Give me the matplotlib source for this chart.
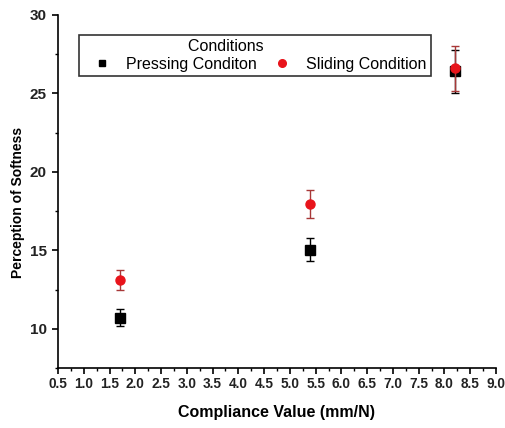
import matplotlib
matplotlib.use("Agg")
import matplotlib.pyplot as plt
from matplotlib.lines import Line2D
from matplotlib.ticker import MultipleLocator

plt.rcParams['font.family'] = ['Liberation Sans', 'DejaVu Sans']

# compliance values (mm/N)
compliance = [1.7, 5.4, 8.2]

# perception of softness, mean and error
pressing = [10.7, 15.05, 26.4]
pressing_err = [0.55, 0.75, 1.35]
sliding = [13.1, 17.95, 26.6]
sliding_err = [0.65, 0.9, 1.45]

fig = plt.figure(figsize=(5.06, 4.28), dpi=100)
ax = fig.add_axes([0.1146, 0.140, 0.8656, 0.825])

ax.errorbar(compliance, pressing, yerr=pressing_err, fmt='s', color='black',
            ecolor='black', markersize=6.5, capsize=3, elinewidth=1, capthick=1,
            zorder=3)
ax.errorbar(compliance, sliding, yerr=sliding_err, fmt='o', color='#e8141b',
            ecolor='#a83838', markersize=6.5, capsize=3, elinewidth=1, capthick=1,
            zorder=4)

ax.set_xlim(0.5, 9.0)
ax.set_ylim(7.5, 30)
ax.xaxis.set_major_locator(MultipleLocator(0.5))
ax.xaxis.set_minor_locator(MultipleLocator(0.25))
ax.set_yticks([10, 15, 20, 25, 30])
ax.yaxis.set_minor_locator(MultipleLocator(2.5))
ax.xaxis.set_major_formatter(plt.FuncFormatter(lambda v, p: '%.1f' % v))

ax.spines['top'].set_visible(False)
ax.spines['right'].set_visible(False)
for s in ['left', 'bottom']:
    ax.spines[s].set_linewidth(1.2)
ax.tick_params(which='major', direction='out', length=4.5, width=1.2)
ax.tick_params(which='minor', direction='out', length=2.5, width=1)
ax.tick_params(axis='x', labelsize=9.8, pad=2)
ax.tick_params(axis='y', labelsize=11)
for lab in ax.get_xticklabels() + ax.get_yticklabels():
    lab.set_fontweight('bold')
    lab.set_color('#222222')

ax.set_xlabel('Compliance Value (mm/N)', fontsize=11.5, fontweight='bold',
              labelpad=10)
ax.set_ylabel('Perception of Softness', fontsize=10, fontweight='bold')
ax.yaxis.set_label_coords(-0.075, 0.47)

# legend shows markers only
handles = [Line2D([], [], marker='s', color='black', linestyle='none',
                  markersize=5),
           Line2D([], [], marker='o', color='#e8141b', linestyle='none',
                  markersize=5.5)]
labels = ['Pressing Conditon', 'Sliding Condition']
leg = ax.legend(handles, labels, loc='upper left',
                bbox_to_anchor=(0.048, 0.943), ncol=2,
                title='Conditions' + ' ' * 13, fontsize=11.5,
                title_fontsize=11.5, frameon=True, fancybox=False,
                borderaxespad=0, handletextpad=0.3, borderpad=0.25,
                labelspacing=0.1, handlelength=2.4, columnspacing=0.4)
leg.get_frame().set_edgecolor('black')
leg.get_frame().set_linewidth(1.2)
leg._legend_box.sep = 2

fig.savefig('out.png', dpi=100)
